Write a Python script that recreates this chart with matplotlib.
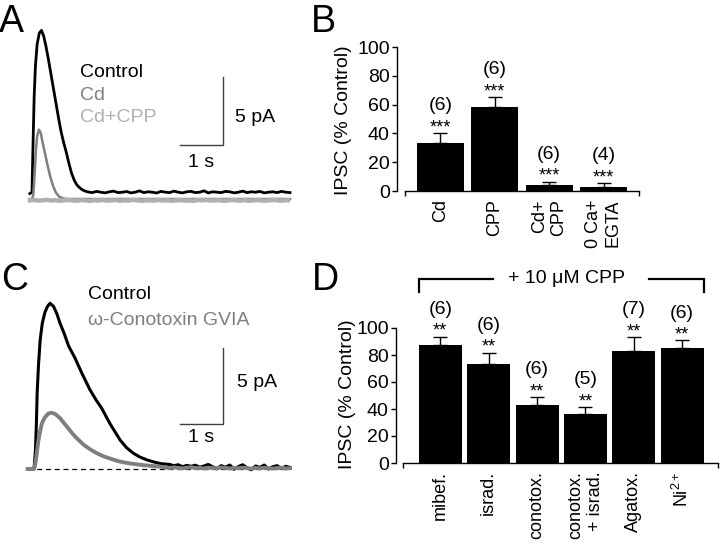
import matplotlib
matplotlib.use("Agg")
import matplotlib.pyplot as plt
import numpy as np

plt.rcParams["font.family"] = ["Liberation Sans", "DejaVu Sans"]
plt.rcParams["mathtext.default"] = "regular"

W, H = 720, 544

# ---- panel A traces (time in s, current in pA) ----
ctrl_a_t = [-0.05, 0.00, 0.02, 0.05, 0.08, 0.12, 0.17, 0.22, 0.27, 0.32, 0.38, 0.44, 0.50,
            0.56, 0.62, 0.68, 0.74, 0.80, 0.86, 0.92, 0.98, 1.04, 1.10, 1.16, 1.22]
ctrl_a_v = [0.40, 0.50, 3.50, 7.50, 9.80, 11.4, 12.2, 12.4, 12.0, 11.3, 10.3, 9.2, 8.1,
            7.0, 5.9, 4.9, 4.1, 3.4, 2.6, 1.9, 1.4, 1.05, 0.85, 0.70, 0.60]
ctrl_a_tail = [0.52, 0.47, 0.56, 0.50, 0.45, 0.53, 0.58, 0.47, 0.50, 0.55,
               0.45, 0.50, 0.60, 0.47, 0.53, 0.50, 0.44, 0.56, 0.50, 0.47,
               0.58, 0.50, 0.45, 0.53, 0.56, 0.47, 0.50, 0.60, 0.45, 0.53,
               0.50, 0.47, 0.56, 0.53, 0.45, 0.50, 0.58, 0.47, 0.53, 0.50,
               0.56, 0.45, 0.50, 0.53, 0.47, 0.56, 0.50, 0.47]
ctrl_a_tail_t = np.round(np.arange(1.3, 6.05, 0.1), 2)

cd_a_t = [-0.05, 0.00, 0.03, 0.06, 0.09, 0.12, 0.16, 0.20, 0.25, 0.30, 0.36, 0.42, 0.49,
          0.56, 0.64, 0.72, 0.80, 6.00]
cd_a_v = [0.0, 0.0, 0.3, 1.8, 3.6, 4.6, 5.1, 4.9, 4.1, 3.4, 2.5, 1.7, 0.95,
          0.45, 0.15, 0.05, 0.0, 0.0]

cdcpp_a_t = np.round(np.arange(-0.05, 6.05, 0.1), 2)
cdcpp_a_v = [-0.10, -0.07, -0.12, -0.10, -0.06, -0.11, -0.09, -0.13, -0.10, -0.07,
             -0.11, -0.12, -0.08, -0.10, -0.14, -0.09, -0.11, -0.07, -0.12, -0.10,
             -0.08, -0.13, -0.10, -0.11, -0.06, -0.10, -0.13, -0.09, -0.10, -0.12,
             -0.07, -0.11, -0.09, -0.13, -0.10, -0.08, -0.12, -0.10, -0.14, -0.08,
             -0.10, -0.07, -0.12, -0.10, -0.09, -0.13, -0.11, -0.07, -0.10, -0.12,
             -0.08, -0.13, -0.10, -0.08, -0.11, -0.12, -0.09, -0.07, -0.12, -0.10,
             -0.09]

# ---- panel C traces ----
ctrl_c_t = [-0.10, 0.00, 0.05, 0.08, 0.10, 0.12, 0.15, 0.19, 0.24, 0.30, 0.36, 0.42, 0.50,
            0.58, 0.65, 0.75, 0.85, 1.00, 1.16, 1.35, 1.50, 1.62, 1.81, 2.05, 2.20, 2.35,
            2.50, 2.67, 2.85, 3.00, 3.20]
ctrl_c_v = [0.0, 0.0, 0.1, 1.2, 2.8, 5.0, 6.8, 8.5, 9.6, 10.3, 10.7, 10.9, 10.7,
            10.2, 9.6, 8.9, 8.1, 7.3, 6.3, 5.2, 4.5, 4.0, 3.0, 1.9, 1.4, 1.05,
            0.8, 0.6, 0.45, 0.35, 0.30]
ctrl_c_tail = [0.22, 0.28, 0.15, 0.24, 0.18, 0.25, 0.12, 0.20, 0.30, 0.14,
               0.02, 0.22, 0.12, 0.26, -0.02, 0.16, 0.28, 0.08, -0.05, 0.20,
               0.10, 0.26, 0.00, 0.15, 0.22, 0.02, 0.18, 0.10]
ctrl_c_tail_t = np.round(np.arange(3.3, 6.05, 0.1), 2)

cono_c_t = [-0.10, 0.05, 0.08, 0.11, 0.15, 0.19, 0.23, 0.30, 0.38, 0.46, 0.55, 0.65,
            0.75, 0.85, 0.95, 1.05, 1.20, 1.35, 1.50, 1.65, 1.80, 2.00, 2.20, 2.40,
            2.60, 2.80, 3.00]
cono_c_v = [0.0, 0.0, 0.4, 1.0, 1.9, 2.5, 3.0, 3.4, 3.65, 3.7, 3.6, 3.35,
            3.0, 2.65, 2.3, 2.0, 1.6, 1.3, 1.05, 0.85, 0.70, 0.52, 0.40, 0.32,
            0.25, 0.20, 0.15]
cono_c_tail = [0.10, 0.06, 0.11, 0.07, 0.04, 0.08, 0.12, 0.06, 0.07, 0.03,
               0.09, 0.06, 0.04, 0.10, 0.07, 0.03, 0.08, 0.05, 0.09, 0.06,
               0.02, 0.07, 0.04, 0.08, 0.05, 0.03, 0.06, 0.09, 0.04, 0.05]
cono_c_tail_t = np.round(np.arange(3.1, 6.05, 0.1), 2)

# ---- panel B bars ----
b_labels = ["Cd", "CPP", "Cd+\nCPP", "0 Ca+\nEGTA"]
b_means = [33.3, 58.3, 4.0, 2.8]
b_errs = [7.0, 7.0, 2.5, 2.5]
b_ns = [6, 6, 6, 4]
b_stars = ["***", "***", "***", "***"]

# ---- panel D bars ----
d_labels = ["mibef.", "israd.", "conotox.", "conotox.\n+ israd.", "Agatox.", "Ni$^{2+}$"]
d_means = [87.4, 73.4, 42.8, 36.4, 83.2, 85.0]
d_errs = [6.2, 8.4, 6.0, 5.2, 10.2, 5.8]
d_ns = [6, 6, 6, 5, 7, 6]
d_stars = ["**", "**", "**", "**", "**", "**"]

GRAY = "#7f7f7f"
LIGHT = "#b0b0b0"
BAR_GRAY = "#404040"

fig = plt.figure(figsize=(7.2, 5.44), dpi=100)


def px_axes(left, top, right, bottom):
    return fig.add_axes([left / W, 1 - bottom / H, (right - left) / W, (bottom - top) / H])


def scale_bars(ax, x0, y0, texty_pa, textx_pa):
    ax.plot([x0 - 1.0, x0, x0], [y0, y0, y0 + 5.0], color=BAR_GRAY, lw=1.0, solid_joinstyle="miter")
    ax.text(textx_pa, texty_pa, "5 pA", fontsize=14, va="center", ha="left")


# panel A
axA = px_axes(20, 10, 300, 230)
axA.set_xlim((20 - 32) / 43, (300 - 32) / 43)
axA.set_ylim(-(230 - 199) * 5 / 68, (199 - 10) * 5 / 68)
axA.axis("off")
axA.plot(np.concatenate([ctrl_a_t, ctrl_a_tail_t]), np.concatenate([ctrl_a_v, ctrl_a_tail]),
         color="black", lw=2.0)
axA.plot(cd_a_t, cd_a_v, color=GRAY, lw=1.8)
axA.plot(cdcpp_a_t, cdcpp_a_v, color=LIGHT, lw=3.2)
scale_bars(axA, 4.44, 3.95, 6.0, 4.72)
axA.text(3.94, 2.7, "1 s", fontsize=14, ha="center", va="center")
axA.text(1.12, 9.3, "Control", fontsize=14, color="black", va="center")
axA.text(1.12, 7.62, "Cd", fontsize=14, color=GRAY, va="center")
axA.text(1.12, 5.98, "Cd+CPP", fontsize=14, color=LIGHT, va="center")

# panel C
axC = px_axes(20, 280, 300, 490)
axC.set_xlim((20 - 32) / 43, (300 - 32) / 43)
axC.set_ylim(-(490 - 469) * 5 / 76, (469 - 280) * 5 / 76)
axC.axis("off")
axC.plot([-0.1, 6.0], [0, 0], color="black", lw=0.9, ls=(0, (4, 3)))
axC.plot(np.concatenate([ctrl_c_t, ctrl_c_tail_t]), np.concatenate([ctrl_c_v, ctrl_c_tail]),
         color="black", lw=2.2)
axC.plot(np.concatenate([cono_c_t, cono_c_tail_t]), np.concatenate([cono_c_v, cono_c_tail]),
         color=GRAY, lw=2.8)
scale_bars(axC, 4.44, 2.96, 5.72, 4.77)
axC.text(3.94, 2.1, "1 s", fontsize=14, ha="center", va="center")
axC.text(1.30, 11.45, "Control", fontsize=14, color="black", va="center")
axC.text(1.30, 9.8, "\u03c9-Conotoxin GVIA", fontsize=14, color=GRAY, va="center")


def bar_panel(ax, labels, means, errs, ns, stars, xlim, width, outward):
    x = np.arange(len(labels))
    ax.bar(x, means, width=width, color="black", linewidth=0)
    ax.errorbar(x, means, yerr=[np.zeros(len(x)), errs], fmt="none", ecolor="black",
                elinewidth=1.0, capsize=5, capthick=1.0)
    for xi, m, e, n, s in zip(x, means, errs, ns, stars):
        ax.annotate(s, (xi, m + e), xytext=(0, 0.5), textcoords="offset points",
                    ha="center", va="baseline", fontsize=13)
        ax.annotate(f"({n})", (xi, m + e), xytext=(0, 16.5), textcoords="offset points",
                    ha="center", va="baseline", fontsize=14)
    ax.set_xlim(*xlim)
    ax.set_ylim(0, 100)
    ax.set_yticks(range(0, 101, 20))
    ax.set_xticks(x)
    ax.set_xticklabels(labels, rotation=90, fontsize=13, va="top", ha="center",
                       multialignment="right")
    ax.set_xticks(list(xlim), minor=True)
    ax.tick_params(axis="x", which="major", length=0, pad=6.0)
    ax.tick_params(axis="x", which="minor", length=3.5, width=1.0, direction="out")
    ax.tick_params(axis="y", length=3.8, width=1.0, direction="out", labelsize=14, pad=1.5)
    for side in ("top", "right"):
        ax.spines[side].set_visible(False)
    ax.spines["left"].set_position(("outward", outward))
    for side in ("left", "bottom"):
        ax.spines[side].set_linewidth(1.0)


axB = px_axes(405, 47, 639, 191)
bar_panel(axB, b_labels, b_means, b_errs, b_ns, b_stars, (-0.65, 3.65), 0.86, 8 * 0.72)

axD = px_axes(403, 328, 718, 463)
bar_panel(axD, d_labels, d_means, d_errs, d_ns, d_stars, (-0.77, 5.74), 0.89, 7 * 0.72)

# bracket over panel D
br_y, br_drop = 136.3, 126.7
axD.plot([-0.445, -0.445, 1.08], [br_drop, br_y, br_y], color="black", lw=1.6, clip_on=False,
         solid_joinstyle="miter")
axD.plot([4.31, 5.445, 5.445], [br_y, br_y, br_drop], color="black", lw=1.6, clip_on=False,
         solid_joinstyle="miter")
axD.text(2.6, br_y, "+ 10 \u03bcM CPP", fontsize=14, ha="center", va="center")

fig.text(343 / W, 1 - 120 / H, "IPSC (% Control)", rotation=90, fontsize=14, ha="center", va="center")
fig.text(347 / W, 1 - 394 / H, "IPSC (% Control)", rotation=90, fontsize=14, ha="center", va="center")

for letter, x, base in [("A", -1, 32), ("B", 311, 32), ("C", 1, 290), ("D", 312, 290)]:
    fig.text(x / W, 1 - base / H, letter, fontsize=27, ha="left", va="baseline")

fig.savefig("out.png", dpi=100)
